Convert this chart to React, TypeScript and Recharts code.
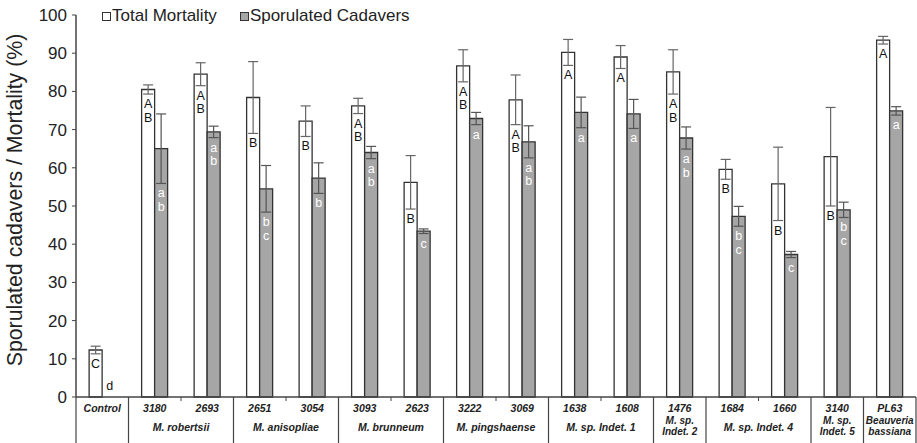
import { BarChart, Bar, XAxis, YAxis, ErrorBar, LabelList } from 'recharts';

// strains (x categories) and the species group each pair belongs to
const strains = ['Control', '3180', '2693', '2651', '3054', '3093', '2623', '3222', '3069', '1638', '1608', '1476', '1684', '1660', '3140', 'PL63'];
const groupLabels = ['', 'M. robertsii', 'M. anisopliae', 'M. brunneum', 'M. pingshaense', 'M. sp. Indet. 1', 'M. sp.|Indet. 2', 'M. sp. Indet. 4', 'M. sp.|Indet. 5', 'Beauveria|bassiana'];
const groupSpans = [1, 2, 2, 2, 2, 2, 1, 2, 1, 1];

// series values (%)
const totalMortality = [12.3, 80.5, 84.5, 78.4, 72.2, 76.2, 56.2, 86.7, 77.8, 90.2, 89.0, 85.1, 59.6, 55.8, 62.9, 93.4];
const totalErr = [1.0, 1.2, 3.0, 9.4, 4.0, 2.0, 7.0, 4.2, 6.5, 3.4, 3.0, 5.8, 2.6, 9.6, 12.9, 1.0];
const sporulated = [0, 65.0, 69.4, 54.5, 57.3, 64.0, 43.4, 72.9, 66.8, 74.5, 74.1, 67.8, 47.3, 37.3, 49.0, 74.9];
const sporErr = [0, 9.1, 1.5, 6.1, 4.0, 1.6, 0.6, 1.6, 4.2, 4.0, 3.8, 2.9, 2.6, 0.8, 2.0, 1.1];

// significance letters
const totalLetters = ['C', 'AB', 'AB', 'B', 'B', 'AB', 'B', 'AB', 'AB', 'A', 'A', 'AB', 'B', 'B', 'B', 'A'];
const sporLetters = ['d', 'ab', 'ab', 'bc', 'b', 'ab', 'c', 'a', 'ab', 'a', 'a', 'ab', 'bc', 'c', 'bc', 'a'];

const yTicks = [0, 10, 20, 30, 40, 50, 60, 70, 80, 90, 100];

const data = strains.map((s, i) => ({
  strain: s,
  total: totalMortality[i],
  totalErr: totalErr[i],
  spor: sporulated[i],
  sporErr: sporErr[i],
}));

const W = 917;
const H = 443;
const X_AXIS_H = 46;
const Y_AXIS_W = 60;
const M = { top: 15, right: 1, bottom: 0, left: 16 };
const PLOT_LEFT = M.left + Y_AXIS_W;
const PLOT_W = W - PLOT_LEFT - M.right;
const PLOT_H = H - M.top - M.bottom - X_AXIS_H;
const BAND = PLOT_W / strains.length;
const UNIT = PLOT_H / 100;
const FONT = '"Liberation Sans", Arial, sans-serif';

// group start index for each category
const groupStart: Record<number, number> = {};
{
  let idx = 0;
  groupSpans.forEach((span, g) => {
    groupStart[idx] = g;
    idx += span;
  });
}

const StrainTick = (props: any) => {
  const { x, y, payload } = props;
  const i = payload.index;
  const left = x - BAND / 2;
  const g = groupStart[i];
  const parts: any[] = [];
  if (g !== undefined) {
    const cx = left + (groupSpans[g] * BAND) / 2;
    const lines = groupLabels[g].split('|');
    const two = lines.length > 1;
    lines.forEach((line, k) => {
      parts.push(
        <text key={'g' + k} x={cx} y={two ? y + 27 + k * 10.5 : y + 34} textAnchor="middle" fontSize={two ? 10 : 10.5} fontStyle="italic" fontWeight="bold" fill="#222" fontFamily={FONT}>
          {line}
        </text>
      );
    });
  }
  return (
    <g>
      {g !== undefined ? (
        <line x1={left} x2={left} y1={y} y2={H} stroke="#444" strokeWidth={1.2} />
      ) : (
        <line x1={left} x2={left} y1={y} y2={y + 4} stroke="#444" strokeWidth={1} />
      )}
      {i === strains.length - 1 && <line x1={x + BAND / 2} x2={x + BAND / 2} y1={y} y2={H} stroke="#444" strokeWidth={1.2} />}
      <text x={x} y={y + 15} textAnchor="middle" fontSize={10.5} fontStyle="italic" fontWeight="bold" fill="#222" fontFamily={FONT}>
        {payload.value}
      </text>
      {parts}
    </g>
  );
};

const letterStack = (text: string, cx: number, start: number, color: string) => (
  <g>
    {text.split('').map((ch, k) => (
      <text key={k} x={cx} y={start + k * 13.5} textAnchor="middle" fontSize={12.5} fill={color} fontFamily={FONT}>
        {ch}
      </text>
    ))}
  </g>
);

// letters for the white bars; also places the letter of an empty (zero) grey bar next to it
const totalLabel = (props: any) => {
  const { x, y, width, height } = props;
  const i = Math.floor((x + width / 2 - PLOT_LEFT) / BAND);
  const cx = x + width / 2;
  return (
    <g>
      {letterStack(totalLetters[i], cx, y + totalErr[i] * UNIT + 14, '#111')}
      {sporulated[i] === 0 && (
        <text x={cx + width + 1} y={y + height - 7} textAnchor="middle" fontSize={12.5} fill="#111111" fontFamily={FONT}>
          {sporLetters[i]}
        </text>
      )}
    </g>
  );
};

const sporLabel = (props: any) => {
  const { x, y, width } = props;
  const i = Math.floor((x + width / 2 - PLOT_LEFT) / BAND);
  if (!sporulated[i]) return null;
  return letterStack(sporLetters[i], x + width / 2, y + sporErr[i] * UNIT + 14, '#ffffff');
};

const YLabel = () => {
  const cy = 200;
  return (
    <text x={15} y={cy} transform={`rotate(-90, 15, ${cy})`} textAnchor="middle" dominantBaseline="central" fontSize={21.3} fill="#222" fontFamily={FONT}>
      Sporulated cadavers / Mortality (%)
    </text>
  );
};

export default function App() {
  return (
    <div style={{ position: 'absolute', left: 0, top: 0, width: W, height: H, background: '#fff', fontFamily: FONT }}>
      <BarChart width={W} height={H} data={data} margin={M} barCategoryGap="25%" barGap={0}>
        <XAxis
          dataKey="strain"
          interval={0}
          tickLine={false}
          tickSize={0}
          tickMargin={0}
          height={X_AXIS_H}
          axisLine={{ stroke: '#444', strokeWidth: 1.5 }}
          tick={<StrainTick />}
        />
        <YAxis
          domain={[0, 100]}
          ticks={yTicks}
          width={Y_AXIS_W}
          interval={0}
          tickSize={4}
          tickMargin={5}
          axisLine={{ stroke: '#444', strokeWidth: 1.5 }}
          tickLine={{ stroke: '#444' }}
          tick={{ fontSize: 17, fill: '#222', fontFamily: FONT }}
          label={<YLabel />}
        />
        <Bar dataKey="total" fill="#ffffff" stroke="#333" strokeWidth={1.3} isAnimationActive={false}>
          <ErrorBar dataKey="totalErr" width={5} stroke="#666" strokeWidth={1.2} />
          <LabelList dataKey="total" content={totalLabel} />
        </Bar>
        <Bar dataKey="spor" fill="#a6a6a6" stroke="#333" strokeWidth={1.3} isAnimationActive={false}>
          <ErrorBar dataKey="sporErr" width={5} stroke="#555" strokeWidth={1.2} />
          <LabelList dataKey="spor" content={sporLabel} />
        </Bar>
      </BarChart>
      <div style={{ position: 'absolute', left: 102, top: 6, display: 'flex', alignItems: 'center', fontSize: 17, color: '#222', whiteSpace: 'nowrap' }}>
        <span style={{ display: 'inline-block', width: 7, height: 7, border: '1px solid #333', background: '#fff', marginRight: 1 }} />
        <span>Total Mortality</span>
        <span style={{ display: 'inline-block', width: 7, height: 7, border: '1px solid #333', background: '#a6a6a6', marginLeft: 23, marginRight: 1 }} />
        <span>Sporulated Cadavers</span>
      </div>
    </div>
  );
}
